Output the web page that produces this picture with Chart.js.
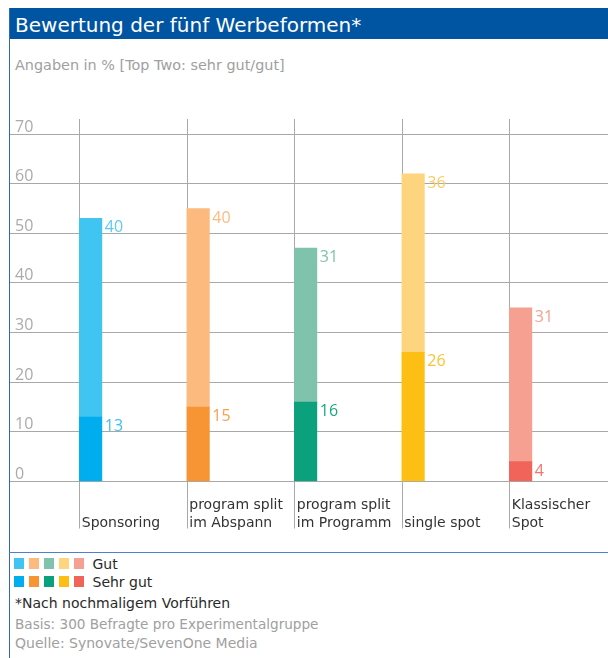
<!DOCTYPE html>
<html>
<head>
<meta charset="utf-8">
<script src="https://cdn.jsdelivr.net/npm/chart.js@4"></script>
<style>
  html, body { margin: 0; padding: 0; background: #fff; }
  #wrap { position: relative; width: 608px; height: 658px; overflow: hidden; background: #fff; font-family: "DejaVu Sans", sans-serif; }
  .abs { position: absolute; white-space: nowrap; }
  #titlebar { left: 9px; top: 8px; width: 599px; height: 31px; background: #0055A2; }
  #title { left: 15px; top: 9.5px; font-size: 20px; line-height: 31px; color: #fff; }
  #lborder { left: 9px; top: 8px; width: 1px; height: 650px; background: #3566b6; }
  #sub { left: 15px; top: 55.3px; font-size: 14.4px; line-height: 20px; color: #a0a0a0; }
  #chartbox { left: 0; top: 100px; width: 608px; height: 440px; }
  #bline { left: 9px; top: 552px; width: 599px; height: 1px; background: #4f80d0; }
  .sq { position: absolute; width: 10px; height: 11px; }
  .t14 { font-size: 14px; line-height: 20px; }
</style>
</head>
<body>
<div id="wrap">
  <div id="titlebar" class="abs"></div>
  <div id="title" class="abs">Bewertung der fünf Werbeformen*</div>
  <div id="lborder" class="abs"></div>
  <div id="sub" class="abs">Angaben in % [Top Two: sehr gut/gut]</div>
  <div id="chartbox" class="abs"><canvas id="c" width="608" height="440"></canvas></div>
  <div id="bline" class="abs"></div>
  <div id="legend"></div>
  <div class="abs t14" style="left:15px;top:592.9px;color:#2a2a2a">*Nach nochmaligem Vorführen</div>
  <div class="abs t14" style="left:15px;top:613.9px;color:#a0a0a0;font-size:13.6px">Basis: 300 Befragte pro Experimentalgruppe</div>
  <div class="abs t14" style="left:15px;top:632.9px;color:#a0a0a0">Quelle: Synovate/SevenOne Media</div>
</div>
<script>
// ---- data ----
const categories = [
  ["", "Sponsoring"],
  ["program split", "im Abspann"],
  ["program split", "im Programm"],
  ["", "single spot"],
  ["Klassischer", "Spot"]
];
const seriesNames = ["Gut", "Sehr gut"];
const sehrGut = [13, 15, 16, 26, 4];
const gut = [40, 40, 31, 36, 31];
const yTicks = [0, 10, 20, 30, 40, 50, 60, 70];

// ---- styles ----
const gutColors = ["#40C5F2", "#FCBA7F", "#80C3AC", "#FED47E", "#F5A090"];
const sehrGutColors = ["#00ADEE", "#F79433", "#0BA17D", "#FDBF13", "#F0645A"];
const gutLabelColors = ["#5CCBF2", "#FCBA7F", "#80C3AC", "#FDCB63", "#F5A090"];
const sehrGutLabelColors = ["#3CC0F0", "#F9A052", "#1AA882", "#FDC333", "#F2746A"];
const BAR_W = 22.5;

// legend (HTML)
(function () {
  const lg = document.getElementById('legend');
  const xs = [14, 29, 43.5, 58.5, 74];
  const rows = [
    { colors: gutColors, top: 558.3, text: seriesNames[0], textTop: 554 },
    { colors: sehrGutColors, top: 576.3, text: seriesNames[1], textTop: 571.6 }
  ];
  rows.forEach(r => {
    r.colors.forEach((c, i) => {
      const d = document.createElement('div');
      d.className = 'sq';
      d.style.left = xs[i] + 'px';
      d.style.top = r.top + 'px';
      d.style.background = c;
      lg.appendChild(d);
    });
    const t = document.createElement('div');
    t.className = 'abs t14';
    t.style.left = '92.5px';
    t.style.top = r.textTop + 'px';
    t.style.color = '#2a2a2a';
    t.textContent = r.text;
    lg.appendChild(t);
  });
})();

const vLinesPlugin = {
  id: 'vlines',
  beforeDatasetsDraw(chart) {
    const ctx = chart.ctx, xs = chart.scales.x;
    ctx.save();
    ctx.strokeStyle = '#a9a9a9';
    ctx.lineWidth = 1;
    categories.forEach((_, i) => {
      const px = Math.round(xs.getPixelForValue(i) - BAR_W / 2) + 0.5;
      ctx.beginPath();
      ctx.moveTo(px, chart.chartArea.top - 15);
      ctx.lineTo(px, chart.chartArea.bottom + 47);
      ctx.stroke();
    });
    ctx.restore();
  }
};

const valueLabelPlugin = {
  id: 'vlabels',
  afterDatasetsDraw(chart) {
    const ctx = chart.ctx;
    ctx.save();
    ctx.font = '16px "Open Sans"';
    ctx.textAlign = 'left';
    ctx.textBaseline = 'middle';
    chart.data.datasets.forEach((ds, di) => {
      const meta = chart.getDatasetMeta(di);
      meta.data.forEach((el, i) => {
        const v = ds.data[i].y;
        ctx.fillStyle = ds.labelColors[i];
        ctx.fillText(String(v), el.x + el.width / 2 + 3, el.y + 9.5);
      });
    });
    ctx.restore();
  }
};

new Chart(document.getElementById('c'), {
  type: 'bar',
  data: {
    datasets: [
      {
        label: seriesNames[1],
        data: sehrGut.map((v, i) => ({ x: i, y: v })),
        backgroundColor: sehrGutColors,
        labelColors: sehrGutLabelColors,
        barThickness: BAR_W
      },
      {
        label: seriesNames[0],
        data: gut.map((v, i) => ({ x: i, y: v })),
        backgroundColor: gutColors,
        labelColors: gutLabelColors,
        barThickness: BAR_W
      }
    ]
  },
  options: {
    responsive: false,
    animation: false,
    layout: { padding: { top: 34, left: 10, right: 0, bottom: 0 } },
    plugins: { legend: { display: false }, tooltip: { enabled: false } },
    scales: {
      x: {
        type: 'linear',
        stacked: true,
        offset: false,
        min: -0.75,
        max: 4.8128,
        afterBuildTicks(scale) { scale.ticks = categories.map((_, i) => ({ value: i })); },
        afterFit(scale) { scale.height = 58.5; scale.paddingLeft = 0; scale.paddingRight = 0; },
        grid: { display: false, drawTicks: false, offset: false },
        border: { display: false },
        ticks: {
          autoSkip: false,
          maxRotation: 0,
          minRotation: 0,
          align: 'start',
          labelOffset: -BAR_W / 2 + 2.4,
          padding: 15,
          color: '#333333',
          font: { family: '"DejaVu Sans"', size: 14, lineHeight: 1.3 },
          callback: (v) => categories[Math.round(v)]
        }
      },
      y: {
        stacked: true,
        min: 0,
        max: 70,
        afterBuildTicks(scale) { scale.ticks = yTicks.map(v => ({ value: v })); },
        afterFit(scale) { scale.width = 0; },
        grid: { color: '#a8a8a8', lineWidth: 1, drawTicks: false },
        border: { display: false },
        ticks: {
          mirror: true,
          padding: 5,
          labelOffset: -7,
          color: '#ababab',
          font: { family: '"Open Sans"', size: 16 }
        }
      }
    }
  },
  plugins: [vLinesPlugin, valueLabelPlugin]
});
</script>
</body>
</html>
